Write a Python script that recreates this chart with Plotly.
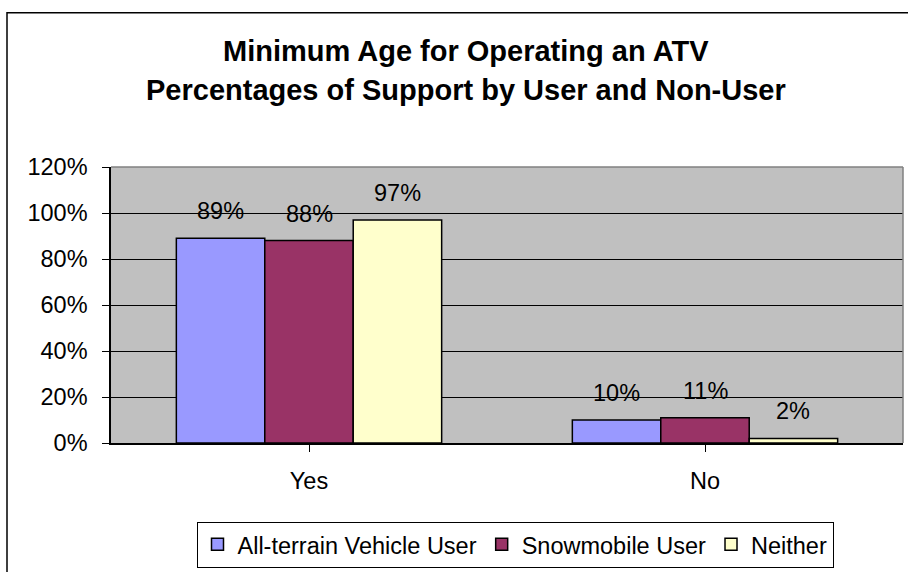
import plotly.graph_objects as go

categories = ["Yes", "No"]
series_names = ["All-terrain Vehicle User", "Snowmobile User", "Neither"]
atv_values = [89, 10]
snow_values = [88, 11]
neither_values = [97, 2]
colors = ["#9999FF", "#993366", "#FFFFCC"]
y_ticks = [0, 20, 40, 60, 80, 100, 120]
y_tick_labels = ["0%", "20%", "40%", "60%", "80%", "100%", "120%"]
title_lines = ["Minimum Age for Operating an ATV",
               "Percentages of Support by User and Non-User"]

FONT = "Liberation Sans, Arial, sans-serif"
W, H = 908, 572
L, R, T, B = 111, 5, 167, 124
pw = W - L - R
ph = H - T - B
TXT = 23.5


def px_x(x):
    return (x - L) / pw


def px_y(y):
    return (H - B - y) / ph


bargap = 0.33
fig = go.Figure()
all_vals = [atv_values, snow_values, neither_values]
for name, vals, col in zip(series_names, all_vals, colors):
    fig.add_trace(go.Bar(
        x=list(range(len(categories))), y=vals, name=name,
        marker=dict(color=col, line=dict(color="black", width=1.5)),
    ))

n = len(series_names)
bw = (1 - bargap) / n
annotations = []
for i, vals in enumerate(all_vals):
    off = (i - (n - 1) / 2) * bw
    for j, v in enumerate(vals):
        annotations.append(dict(
            x=j + off, y=v, xref="x", yref="y", text=f"{v}%",
            showarrow=False, yanchor="bottom", yshift=12,
            font=dict(family=FONT, size=TXT, color="black")))

title_centers = [49, 89]
for line, cy in zip(title_lines, title_centers):
    annotations.append(dict(
        x=px_x(466), y=px_y(cy), xref="paper", yref="paper",
        text=f"<b>{line}</b>", showarrow=False, xanchor="center", yanchor="middle",
        font=dict(family=FONT, size=29, color="black")))

shapes = [
    dict(type="rect", xref="paper", yref="paper",
         x0=px_x(7), x1=px_x(915), y0=px_y(580), y1=px_y(10),
         line=dict(color="black", width=1.5), layer="below"),
    dict(type="line", xref="paper", yref="paper", x0=0, x1=1, y0=1, y1=1,
         line=dict(color="#808080", width=1.5)),
    dict(type="line", xref="paper", yref="paper", x0=1, x1=1, y0=0, y1=1,
         line=dict(color="#808080", width=1.5)),
]

fig.update_layout(
    width=W, height=H,
    margin=dict(l=L, r=R, t=T, b=B),
    paper_bgcolor="white", plot_bgcolor="#C0C0C0",
    barmode="group", bargap=bargap, bargroupgap=0,
    showlegend=True,
    legend=dict(orientation="h", x=px_x(515), y=px_y(528), xanchor="center", yanchor="top",
                bordercolor="black", borderwidth=1, bgcolor="white",
                font=dict(family=FONT, size=TXT, color="black"),
                itemwidth=30, tracegroupgap=0),
    annotations=annotations, shapes=shapes,
    font=dict(family=FONT, size=TXT, color="black"),
)
fig.update_xaxes(
    tickmode="array", tickvals=list(range(len(categories))), ticktext=categories,
    range=[-0.5, len(categories) - 0.5],
    showline=True, linecolor="black", linewidth=1.5,
    ticks="outside", tickson="boundaries", ticklen=7, tickcolor="black",
    showgrid=False, ticklabelstandoff=9,
    tickfont=dict(family=FONT, size=TXT, color="black"),
)
fig.update_yaxes(
    range=[0, 120], tickvals=y_ticks, ticktext=y_tick_labels,
    showline=True, linecolor="black", linewidth=1.5,
    ticks="outside", ticklen=7, tickcolor="black",
    showgrid=True, gridcolor="black", gridwidth=1, zeroline=False,
    ticklabelstandoff=10,
    tickfont=dict(family=FONT, size=TXT, color="black"),
)

fig.write_html("out.html", config={"displayModeBar": False},
               post_script="document.body.style.margin='0';document.body.style.overflow='hidden';")
